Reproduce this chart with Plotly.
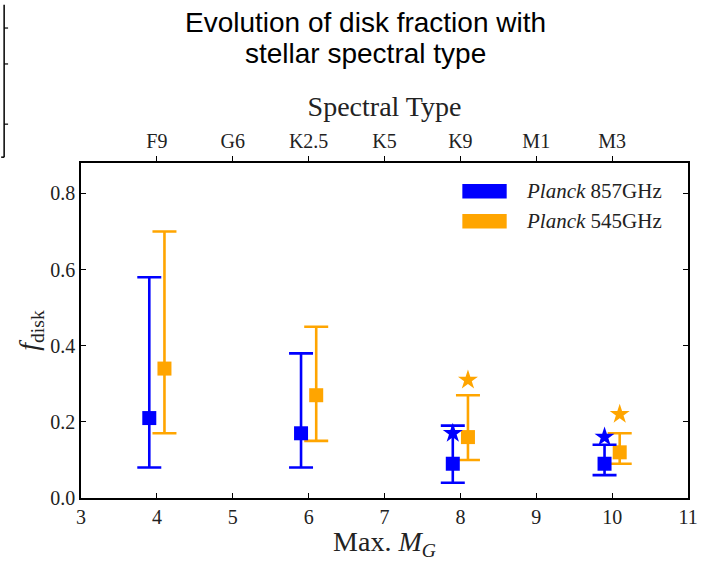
import plotly.graph_objects as go

# Absolute-magnitude bins and the two Planck bands
mg_bins = [4, 6, 8, 10]
spec_ticks = [4, 5, 6, 7, 8, 9, 10]
spec_labels = ["F9", "G6", "K2.5", "K5", "K9", "M1", "M3"]
y_ticks = [0.0, 0.2, 0.4, 0.6, 0.8]

f_857 = [0.21, 0.17, 0.09, 0.09]
lo_857 = [0.08, 0.08, 0.04, 0.06]
hi_857 = [0.58, 0.38, 0.19, 0.14]
star_857 = [None, None, 0.17, 0.16]

f_545 = [0.34, 0.27, 0.16, 0.12]
lo_545 = [0.17, 0.15, 0.10, 0.09]
hi_545 = [0.70, 0.45, 0.27, 0.17]
star_545 = [None, None, 0.31, 0.22]

BLUE = "#0000ff"
ORANGE = "#ffa500"
SERIF = "Liberation Serif"
SANS = "Liberation Sans"
shift = 0.1

W, H = 710, 561
PL, PR, PT, PB = 81, 697, 163, 508


def px_x(p):
    return (p - PL) / (PR - PL)


def px_y(p):
    return (PB - p) / (PB - PT)


fig = go.Figure()


def band(vals, lo, hi, stars, dx, color):
    xs = [m + dx for m in mg_bins]
    fig.add_trace(go.Scatter(
        x=xs, y=vals, mode="markers",
        marker=dict(symbol="square", size=14, color=color),
        error_y=dict(type="data", symmetric=False,
                     array=[h - v for h, v in zip(hi, vals)],
                     arrayminus=[v - l for v, l in zip(vals, lo)],
                     color=color, thickness=2.6, width=12),
        showlegend=False, hoverinfo="skip"))
    fig.add_trace(go.Scatter(
        x=xs, y=stars, mode="markers",
        marker=dict(symbol="star", size=15, color=color),
        showlegend=False, hoverinfo="skip"))


band(f_545, lo_545, hi_545, star_545, +shift, ORANGE)
band(f_857, lo_857, hi_857, star_857, -shift, BLUE)

# top axis carrying spectral types
fig.add_trace(go.Scatter(x=spec_ticks, y=[None] * len(spec_ticks), xaxis="x2",
                         mode="markers", showlegend=False, hoverinfo="skip"))

axis_common = dict(showgrid=False, zeroline=False, showline=True,
                   linecolor="black", linewidth=1.5, tickcolor="black",
                   tickwidth=1.2, tickfont=dict(family=SERIF, size=20, color="#222"))
title_font = dict(family=SERIF, size=28, color="#222")

fig.update_layout(
    width=W, height=H,
    margin=dict(l=PL, r=W - PR, t=PT, b=H - PB),
    paper_bgcolor="white", plot_bgcolor="white",
    xaxis=dict(range=[3, 11], tickvals=list(range(3, 12)), ticks="inside", ticklen=5,
               mirror=True,
               title=dict(text="Max. <i>M<sub>G</sub></i>", font=title_font, standoff=2),
               **axis_common),
    xaxis2=dict(range=[3, 11], overlaying="x", side="top", anchor="y",
                tickvals=spec_ticks, ticktext=spec_labels, ticks="outside", ticklen=5,
                title=dict(text="Spectral Type", font=title_font, standoff=5),
                **axis_common),
    yaxis=dict(range=[0, 0.88], tickvals=y_ticks, tickformat=".1f", ticks="inside",
               ticklen=5, mirror="ticks",
               title=dict(text="<i>f</i><sub>disk</sub>", font=title_font, standoff=3),
               **axis_common),
)

# legend patches
legend_rows = [(BLUE, "<i>Planck</i> 857GHz", 192), (ORANGE, "<i>Planck</i> 545GHz", 223)]
for color, label, yc in legend_rows:
    fig.add_shape(type="rect", xref="paper", yref="paper",
                  x0=px_x(468), x1=px_x(513), y0=px_y(yc - 7.5), y1=px_y(yc + 7.5),
                  fillcolor=color, line=dict(width=0))
    fig.add_annotation(xref="paper", yref="paper", x=px_x(531), y=px_y(yc),
                       xanchor="left", yanchor="middle", showarrow=False, text=label,
                       font=dict(family=SERIF, size=21, color="#222"))

# title
for text, yc in [("Evolution of disk fraction with", 18), ("stellar spectral type", 50)]:
    fig.add_annotation(xref="paper", yref="paper", x=px_x(370), y=px_y(yc),
                       xanchor="center", yanchor="middle", showarrow=False, text=text,
                       font=dict(family=SANS, size=28, color="black"))

# edge of the neighbouring panel at the upper left
frame = dict(color="black", width=1.5)
fig.add_shape(type="line", xref="paper", yref="paper", x0=px_x(3), x1=px_x(3),
              y0=px_y(0), y1=px_y(157), line=frame)
fig.add_shape(type="line", xref="paper", yref="paper", x0=px_x(0), x1=px_x(3),
              y0=px_y(157), y1=px_y(157), line=frame)
for ty in [24, 61, 123]:
    fig.add_shape(type="line", xref="paper", yref="paper", x0=px_x(3), x1=px_x(7),
                  y0=px_y(ty), y1=px_y(ty), line=dict(color="black", width=1.2))

fig.write_html("out.html")
